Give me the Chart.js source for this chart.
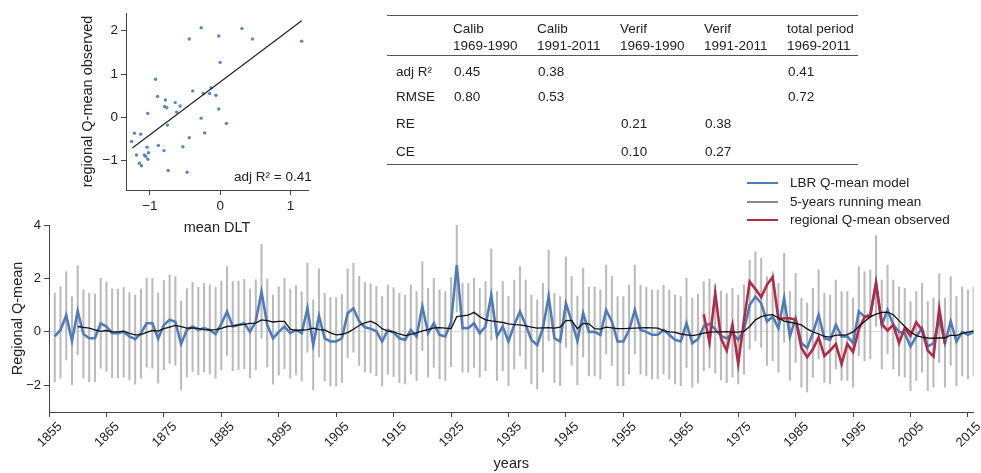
<!DOCTYPE html>
<html>
<head>
<meta charset="utf-8">
<script src="https://cdn.jsdelivr.net/npm/chart.js@4"></script>
<style>
  body { margin: 0; background: #fff; font-family: "Liberation Sans", Arial, sans-serif; color: #222; }
  #wrap { position: relative; width: 981px; height: 473px; overflow: hidden; }
  canvas { position: absolute; left: 0; top: 0; }
  .t { position: absolute; font-size: 13.5px; white-space: nowrap; line-height: 1; }
  .rule { position: absolute; height: 0; border-top: 1.5px solid #555; }
  .leg { position: absolute; height: 0; width: 31px; border-top: 2.5px solid; }
</style>
</head>
<body>
<div id="wrap">
  <canvas id="main" width="981" height="473"></canvas>
  <canvas id="inset" width="330" height="240"></canvas>
  <div id="overlay"></div>
</div>
<script>
const FONT = "'Liberation Sans', Arial, sans-serif";
Chart.defaults.font.family = FONT;
Chart.defaults.color = "#222";

// years of the reconstruction
const years = [];
for (let y = 1856; y <= 2016; y++) years.push(y);

// LBR Q-mean model, 1856-2016
const model = [
  -0.17, 0.07, 0.62, -0.34, 0.78, -0.08, -0.24, -0.24, 0.32, 0.2,
  -0.05, -0.05, 0.0, -0.17, -0.27, -0.05, 0.32, 0.32, -0.26, 0.26,
  0.45, 0.38, -0.45, 0.07, 0.2, 0.07, 0.14, 0.07, -0.08, 0.3,
  0.76, 0.2, 0.26, 0.32, 0.0, 0.39, 1.5, 0.26, -0.24, 0.0,
  0.2, -0.05, 0.07, -0.05, 0.88, -0.49, 0.6, -0.24, -0.36, -0.36,
  -0.24, 0.7, 0.88, 0.4, 0.17, 0.12, 0.02, -0.36, 0.07, -0.03,
  -0.24, -0.3, 0.07, -0.17, 0.95, -0.05, 0.32, -0.11, -0.17, 0.35,
  2.5, 0.14, 0.14, 0.32, -0.05, 0.2, 1.38, -0.17, 0.2, -0.36,
  0.26, 0.76, 0.26, -0.3, -0.49, 0.14, 1.32, -0.24, -0.36, 1.07,
  0.39, -0.34, 0.7, 0.0, 0.0, -0.11, 0.82, 0.39, -0.36, -0.36,
  0.07, 0.82, 0.07, 0.0, -0.11, -0.11, 0.07, -0.11, -0.3, -0.36,
  0.32, -0.42, -0.27, 0.2, 0.3, 0.1, -0.15, -0.25, -0.05, -0.3,
  0.07, 1.0, 1.32, 1.07, 0.39, 0.57, 0.14, 1.26, -0.17, 0.51,
  -0.42, -0.6, -0.05, 0.64, -0.24, -0.3, 0.26, -0.17, -0.17, -0.42,
  0.76, 0.57, 0.64, 1.85, 0.26, 0.82, 0.26, 0.0, -0.05, -0.55,
  -0.17, 0.14, -0.55, -0.42, 0.5, -0.42, 0.39, -0.36, 0.0, -0.11,
  0.0
];

// uncertainty range (gray bars), 1856-2016
const upper = [
  1.45, 1.69, 2.26, 1.32, 2.48, 1.57, 1.45, 1.41, 2.0, 1.86,
  1.6, 1.6, 1.66, 1.47, 1.38, 1.6, 2.0, 2.0, 1.46, 1.92,
  2.13, 2.07, 1.15, 1.62, 1.85, 1.68, 1.82, 1.76, 1.66, 1.9,
  2.44, 1.88, 1.9, 1.96, 1.6, 1.95, 3.28, 1.98, 1.38, 1.69,
  2.0, 1.6, 1.72, 1.5, 2.57, 1.2, 2.36, 1.44, 1.28, 1.28,
  1.4, 2.36, 2.57, 2.08, 1.85, 1.8, 1.7, 1.32, 1.75, 1.65,
  1.44, 1.38, 1.75, 1.51, 2.63, 1.63, 2.0, 1.57, 1.51, 2.03,
  4.45, 1.82, 1.82, 2.0, 1.63, 1.88, 3.1, 1.51, 1.88, 1.32,
  1.94, 2.44, 1.94, 1.38, 1.19, 1.82, 3.05, 1.44, 1.32, 2.8,
  2.07, 1.34, 2.38, 1.68, 1.68, 1.57, 2.5, 2.07, 1.32, 1.32,
  1.75, 2.5, 1.75, 1.68, 1.57, 1.57, 1.75, 1.57, 1.38, 1.32,
  2.0, 1.26, 1.41, 1.88, 1.98, 1.78, 1.53, 1.43, 1.63, 1.38,
  1.75, 2.68, 3.0, 2.75, 2.07, 2.25, 1.82, 2.94, 1.51, 2.19,
  1.26, 1.08, 1.63, 2.32, 1.44, 1.38, 1.94, 1.51, 1.51, 1.26,
  2.44, 2.25, 2.32, 3.6, 1.94, 2.5, 1.94, 1.68, 1.63, 1.13,
  1.51, 1.82, 1.13, 1.26, 2.18, 1.26, 2.07, 1.32, 1.68, 1.57,
  1.68
];
const lower = [
  -1.86, -1.73, -1.05, -1.98, -0.86, -1.73, -1.86, -1.86, -1.36, -1.48,
  -1.72, -1.72, -1.7, -1.8, -1.96, -1.73, -1.32, -1.36, -1.92, -1.42,
  -1.18, -1.25, -2.17, -1.7, -1.48, -1.6, -1.5, -1.57, -1.73, -1.42,
  -0.88, -1.45, -1.42, -1.38, -1.72, -1.42, -0.24, -1.32, -1.96, -1.62,
  -1.38, -1.73, -1.6, -1.84, -0.76, -2.17, -0.94, -1.84, -2.02, -2.02,
  -1.9, -0.98, -0.76, -1.26, -1.5, -1.54, -1.64, -2.02, -1.58, -1.68,
  -1.9, -1.95, -1.58, -1.82, -0.7, -1.7, -1.33, -1.76, -1.82, -1.3,
  0.75, -1.51, -1.51, -1.33, -1.7, -1.45, -0.3, -1.82, -1.45, -2.01,
  -1.39, -0.89, -1.39, -1.95, -2.14, -1.51, -0.33, -1.89, -2.01, -0.58,
  -1.26, -1.99, -0.95, -1.65, -1.65, -1.76, -0.83, -1.26, -2.01, -2.01,
  -1.58, -0.83, -1.58, -1.65, -1.76, -1.76, -1.58, -1.76, -1.95, -2.01,
  -1.33, -2.07, -1.92, -1.45, -1.35, -1.55, -1.8, -1.9, -1.7, -1.95,
  -1.58, -0.65, -0.33, -0.58, -1.26, -1.08, -1.51, -0.39, -1.82, -1.14,
  -2.07, -2.25, -1.7, -1.01, -1.89, -1.95, -1.39, -1.82, -1.82, -2.07,
  -0.89, -1.08, -1.01, 0.2, -1.39, -0.83, -1.39, -1.65, -1.7, -2.2,
  -1.82, -1.51, -2.2, -2.07, -1.15, -2.07, -1.26, -2.01, -1.65, -1.76,
  -1.65
];

// 5-years running mean, 1860-2016
const runStart = 1860;
const runMean = [
  0.2, 0.17, 0.14, 0.07, 0.02, 0.05, 0.0, 0.0, 0.03, -0.06,
  -0.11, -0.1, -0.02, 0.05, 0.03, 0.12, 0.18, 0.24, 0.2, 0.14,
  0.15, 0.13, 0.08, 0.07, 0.08, 0.13, 0.2, 0.22, 0.26, 0.28,
  0.32, 0.33, 0.45, 0.42, 0.37, 0.39, 0.39, 0.1, 0.05, 0.07,
  0.08, 0.14, 0.08, 0.07, -0.04, -0.11, -0.09, -0.03, 0.1, 0.24,
  0.34, 0.4, 0.3, 0.12, 0.03, 0.0, -0.08, -0.14, -0.09, -0.04,
  0.04, 0.08, 0.15, 0.16, 0.14, 0.12, 0.57, 0.6, 0.63, 0.73,
  0.57, 0.45, 0.41, 0.38, 0.35, 0.3, 0.27, 0.26, 0.22, 0.18,
  0.14, 0.15, 0.16, 0.14, 0.18, 0.42, 0.43, 0.12, 0.32, 0.3,
  0.12, 0.1, 0.18, 0.15, 0.12, 0.12, 0.13, 0.14, 0.15, 0.16,
  0.15, 0.14, 0.05, 0.0, -0.02, -0.08, -0.11, -0.14, -0.1, -0.05,
  -0.01, 0.0, 0.0, 0.01, -0.01, -0.01, 0.02, 0.2, 0.45, 0.57,
  0.63, 0.64, 0.52, 0.4, 0.36, 0.32, 0.26, 0.11, 0.0, -0.08,
  -0.17, -0.2, -0.12, -0.12, -0.1, 0.0, 0.2, 0.39, 0.56, 0.66,
  0.73, 0.74, 0.64, 0.42, 0.2, 0.0, -0.14, -0.2, -0.23, -0.24,
  -0.23, -0.22, -0.12, -0.14, -0.06, -0.01, 0.04
];

// regional Q-mean observed, 1969-2011
const obsStart = 1969;
const observed = [
  0.66, -0.4, 1.45, -0.24, -0.7, 0.26, -1.2, 0.42, 1.88, 1.6,
  1.3, 1.76, 2.05, 0.48, 0.51, 0.51, 0.45, -0.6, -0.95, -0.65,
  -0.2, -0.9, -0.7, -0.45, -1.2, -0.45, -0.75, 0.1, 0.55, 0.6,
  1.82, 0.3, 0.05, 0.26, -0.42, 0.14, -0.15, 0.36, 0.07, -0.7,
  -0.92, 0.88, -0.45
];

const xTicks = [1855, 1865, 1875, 1885, 1895, 1905, 1915, 1925, 1935, 1945, 1955, 1965, 1975, 1985, 1995, 2005, 2015];
const yTicks = [-2, 0, 2, 4];

// inset: mean DLT vs observed
const dlt = [
  -0.44, -0.27, -0.02, 0.31, 0.46, 1.16, 0.0, -0.92, -0.89, -0.39,
  -0.24, -0.15, -0.13, -0.06, -0.78, -0.79, -0.76, -0.64, -0.57, -0.62,
  -1.03, -0.27, -0.02, 0.09, -0.75, -1.22, -1.13, -1.26, -0.44, -0.22,
  -0.88, -0.53, -1.04, -0.8, -1.02, -1.19, -1.08, -1.03, -1.15, -1.12,
  -0.74, -0.47, -1.06
];
const obsQ = [
  1.81, 2.07, 1.88, 2.05, 1.81, 1.76, 1.27, 0.88, 0.48, 0.61,
  0.55, 0.55, 0.68, 0.51, 0.4, 0.25, 0.22, 0.34, 0.26, 0.12,
  0.09, -0.02, 0.19, -0.14, -0.18, -0.37, -0.39, -0.56, -0.47, -0.36,
  -0.65, -0.68, -0.69, -0.77, -0.82, -0.87, -0.87, -0.97, -1.06, -1.12,
  -1.23, -1.27, -0.9
];
const fitX = [-1.25, 1.16];
const fitY = [-0.71, 2.23];
const insetXTicks = [-1, 0, 1];
const insetYTicks = [-1, 0, 1, 2];

// table of statistics
const tableHead = [["Calib", "1969-1990"], ["Calib", "1991-2011"], ["Verif", "1969-1990"], ["Verif", "1991-2011"], ["total period", "1969-2011"]];
const tableRowNames = ["adj R²", "RMSE", "RE", "CE"];
const tableValues = [
  ["0.45", "0.38", "", "", "0.41"],
  ["0.80", "0.53", "", "", "0.72"],
  ["", "", "0.21", "0.38", ""],
  ["", "", "0.10", "0.27", ""]
];

const legendItems = [
  ["LBR Q-mean model", "#4f7cb8"],
  ["5-years running mean", "#8a8a8a"],
  ["regional Q-mean observed", "#b22a45"]
];

function minus(v) {
  return v < 0 ? "\u2212" + Math.abs(v) : String(v);
}

new Chart(document.getElementById("main"), {
  type: "bar",
  data: {
    datasets: [
      {
        type: "line",
        label: "5-years running mean",
        data: runMean.map((v, i) => ({ x: runStart + i, y: v })),
        borderColor: "#111",
        borderWidth: 1.3,
        pointRadius: 0,
        order: 0
      },
      {
        type: "line",
        label: "regional Q-mean observed",
        data: observed.map((v, i) => ({ x: obsStart + i, y: v })),
        borderColor: "#b22a45",
        borderWidth: 2.6,
        pointRadius: 0,
        order: 1
      },
      {
        type: "line",
        label: "LBR Q-mean model",
        data: model.map((v, i) => ({ x: years[i], y: v })),
        borderColor: "#4f7cb8",
        borderWidth: 2.6,
        pointRadius: 0,
        order: 2
      },
      {
        type: "bar",
        label: "range",
        data: years.map((y, i) => ({ x: y, y: [lower[i], upper[i]] })),
        backgroundColor: "#bbbbbb",
        barThickness: 1.4,
        borderWidth: 0,
        order: 3
      }
    ]
  },
  options: {
    responsive: false,
    animation: false,
    layout: { padding: { left: 9, top: 225, right: 5, bottom: 0 } },
    plugins: { legend: { display: false }, tooltip: { enabled: false } },
    scales: {
      x: {
        type: "linear",
        min: 1855,
        max: 2016,
        offset: false,
        afterBuildTicks: s => { s.ticks = xTicks.map(v => ({ value: v })); },
        afterFit: s => { s.height = 61; },
        grid: { drawOnChartArea: false, tickLength: 5, tickColor: "#444", offset: false },
        border: { color: "#444", width: 1 },
        ticks: {
          autoSkip: false, minRotation: 45, maxRotation: 45, labelOffset: 11, padding: 2,
          color: "#222", font: { size: 13 },
          callback: v => String(v)
        },
        title: { display: true, text: "years", color: "#222", font: { size: 14.5 }, padding: { top: 0, bottom: 0 } }
      },
      y: {
        min: -3,
        max: 4,
        afterBuildTicks: s => { s.ticks = yTicks.map(v => ({ value: v })); },
        afterFit: s => { s.width = 40; },
        grid: {
          color: c => (c.tick && c.tick.value === 0 ? "#dddddd" : "rgba(0,0,0,0)"),
          tickColor: "#444",
          tickLength: 5
        },
        border: { color: "#444", width: 1 },
        ticks: { color: "#222", font: { size: 13 }, padding: 3, callback: v => minus(v) },
        title: { display: true, text: "Regional Q-mean", color: "#222", font: { size: 14.5 }, padding: { top: 0, bottom: 2 } }
      }
    }
  }
});

new Chart(document.getElementById("inset"), {
  type: "scatter",
  data: {
    datasets: [
      {
        type: "line",
        data: fitX.map((x, i) => ({ x: x, y: fitY[i] })),
        borderColor: "#222",
        borderWidth: 1.2,
        pointRadius: 0,
        order: 0
      },
      {
        data: dlt.map((x, i) => ({ x: x, y: obsQ[i] })),
        backgroundColor: "#5a86bf",
        borderWidth: 0,
        pointRadius: 1.7,
        order: 1
      }
    ]
  },
  options: {
    responsive: false,
    animation: false,
    layout: { padding: { left: 79, top: 13, right: 22, bottom: 0 } },
    plugins: { legend: { display: false }, tooltip: { enabled: false } },
    scales: {
      x: {
        type: "linear",
        min: -1.34,
        max: 1.25,
        afterBuildTicks: s => { s.ticks = insetXTicks.map(v => ({ value: v })); },
        afterFit: s => { s.height = 50; },
        grid: { drawOnChartArea: false, tickLength: 5, tickColor: "#444" },
        border: { color: "#444", width: 1 },
        ticks: { color: "#222", font: { size: 13.5 }, padding: 3, callback: v => minus(v) },
        title: { display: true, text: "mean DLT", color: "#222", font: { size: 14.5 }, padding: { top: 0, bottom: 3 } }
      },
      y: {
        min: -1.68,
        max: 2.41,
        afterBuildTicks: s => { s.ticks = insetYTicks.map(v => ({ value: v })); },
        afterFit: s => { s.width = 47; },
        grid: { drawOnChartArea: false, tickLength: 5, tickColor: "#444" },
        border: { color: "#444", width: 1 },
        ticks: { color: "#222", font: { size: 13.5 }, padding: 3, callback: v => minus(v) },
        title: { display: true, text: "regional Q-mean observed", color: "#222", font: { size: 14.5 }, padding: { top: 0, bottom: 2 } }
      }
    }
  }
});

// overlay texts: table, legend, R2 note
const overlay = document.getElementById("overlay");
function addText(txt, x, yc, extra) {
  const d = document.createElement("div");
  d.className = "t";
  d.textContent = txt;
  d.style.left = x + "px";
  d.style.top = (yc - 7) + "px";
  if (extra) Object.assign(d.style, extra);
  overlay.appendChild(d);
  return d;
}
function addRule(x1, x2, y) {
  const d = document.createElement("div");
  d.className = "rule";
  d.style.left = x1 + "px";
  d.style.width = (x2 - x1) + "px";
  d.style.top = y + "px";
  overlay.appendChild(d);
}

const colX = [453, 537, 620, 704, 787];
const rowY = [72, 97, 124, 152];
addRule(387, 858, 15);
addRule(387, 858, 55);
addRule(387, 858, 164);
tableHead.forEach((h, j) => {
  addText(h[0], colX[j], 29);
  addText(h[1], colX[j], 46);
});
tableRowNames.forEach((name, i) => {
  addText(name, 396, rowY[i]);
  tableValues[i].forEach((v, j) => { if (v) addText(v, colX[j] + 1, rowY[i]); });
});

legendItems.forEach((item, i) => {
  const yc = 183 + i * 18.5;
  const l = document.createElement("div");
  l.className = "leg";
  l.style.left = "747px";
  l.style.top = (yc - 1) + "px";
  l.style.borderTopColor = item[1];
  overlay.appendChild(l);
  addText(item[0], 790, yc);
});

addText("adj R² =  0.41", 234, 177);
</script>
</body>
</html>
